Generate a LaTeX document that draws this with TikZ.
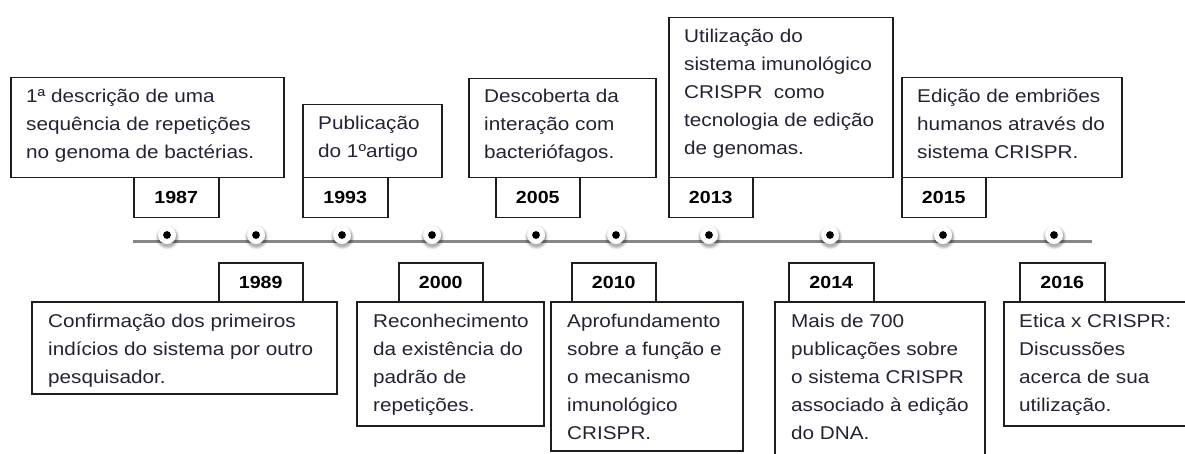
\documentclass[tikz,border=0pt]{standalone}
\usepackage{fontspec}
\setmainfont[FakeStretch=1.12]{Liberation Sans}
\usetikzlibrary{calc}
\definecolor{txtc}{RGB}{35,35,52}
\definecolor{boxc}{RGB}{30,30,30}
\definecolor{linec}{RGB}{135,135,135}
\newcommand{\desctext}[1]{\parbox[t]{320pt}{\raggedright #1}}
\begin{document}
\begin{tikzpicture}[x=1pt,y=-1pt,
  box/.style={draw=boxc, line width=1.5pt, fill=white, anchor=north west, inner sep=0pt},
  desc/.style={anchor=base west, inner sep=0pt, text=txtc, font=\fontsize{18.5}{28}\selectfont},
  yr/.style={text=black, font=\fontsize{17.5}{20}\selectfont\bfseries, inner sep=0pt},
  tl/.style={draw=linec, line width=3pt},
  dotn/.style={circle, fill=white, inner sep=0pt, minimum size=18pt},
  core/.style={fill=black}]
\useasboundingbox (0,0) rectangle (1185,454);
\clip (0,0) rectangle (1185,454);

% timeline
\coordinate (ls) at (133,242);
\coordinate (le) at (1092,242);
\draw[tl] (ls) -- (le);
\foreach \n/\x in {1/167,2/256,3/342,4/432,5/536,6/616,7/709,8/830,9/943,10/1054}{
  \fill[black, opacity=0.07] (\x+0.5,237.5) circle (12pt);
  \fill[black, opacity=0.12] (\x+0.5,237.5) circle (10.8pt);
  \fill[black, opacity=0.15] (\x+0.5,237) circle (9.8pt);
  \node[dotn] (d\n) at (\x,235) {};
  \fill[core] (d\n.center) circle (3.9pt);
}

% upper row
\node[box, minimum width=273, minimum height=100] (b1987) at (10,77) {};
\node[box, minimum width=85, minimum height=40] (y1987) at (133,177) {};
\node[yr] at (y1987.center) {1987};
\node[desc] (t1987) at ($(b1987.north west)+(16,25.5)$) {\desctext{1ª descrição de uma\\sequência de repetições\\no genoma de bactérias.}};

\node[box, minimum width=139, minimum height=73] (b1993) at (302,104) {};
\node[box, minimum width=85, minimum height=40] (y1993) at (302,177) {};
\node[yr] at (y1993.center) {1993};
\node[desc] (t1993) at ($(b1993.north west)+(16,25.5)$) {\desctext{Publicação\\do 1ºartigo}};

\node[box, minimum width=187, minimum height=99] (b2005) at (468,78) {};
\node[box, minimum width=84, minimum height=40] (y2005) at (495,177) {};
\node[yr] at (y2005.center) {2005};
\node[desc] (t2005) at ($(b2005.north west)+(16,25)$) {\desctext{Descoberta da\\interação com\\bacteriófagos.}};

\node[box, minimum width=224, minimum height=160] (b2013) at (668,17) {};
\node[box, minimum width=84, minimum height=40] (y2013) at (668,177) {};
\node[yr] at (y2013.center) {2013};
\node[desc] (t2013) at ($(b2013.north west)+(16,26)$) {\desctext{Utilização do\\sistema imunológico\\CRISPR\ \ como\\tecnologia de edição\\de genomas.}};

\node[box, minimum width=220, minimum height=100] (b2015) at (901,77) {};
\node[box, minimum width=84, minimum height=40] (y2015) at (901,177) {};
\node[yr] at (y2015.center) {2015};
\node[desc] (t2015) at ($(b2015.north west)+(16,25.5)$) {\desctext{Edição de embriões\\humanos através do\\sistema CRISPR.}};

% lower row
\node[box, minimum width=84, minimum height=39] (y1989) at (218,262) {};
\node[box, minimum width=305, minimum height=92] (b1989) at (31,301) {};
\node[yr] at (y1989.center) {1989};
\node[desc] (t1989) at ($(b1989.north west)+(17,26)$) {\desctext{Confirmação dos primeiros\\indícios do sistema por outro\\pesquisador.}};

\node[box, minimum width=84, minimum height=39] (y2000) at (398,262) {};
\node[box, minimum width=187, minimum height=124] (b2000) at (356,301) {};
\node[yr] at (y2000.center) {2000};
\node[desc] (t2000) at ($(b2000.north west)+(17,26)$) {\desctext{Reconhecimento\\da existência do\\padrão de\\repetições.}};

\node[box, minimum width=84, minimum height=39] (y2010) at (571,262) {};
\node[box, minimum width=192, minimum height=149] (b2010) at (550,301) {};
\node[yr] at (y2010.center) {2010};
\node[desc] (t2010) at ($(b2010.north west)+(17,26)$) {\desctext{Aprofundamento\\sobre a função e\\o mecanismo\\imunológico\\CRISPR.}};

\node[box, minimum width=85, minimum height=39] (y2014) at (788,262) {};
\node[box, minimum width=210, minimum height=175] (b2014) at (774,301) {};
\node[yr] at (y2014.center) {2014};
\node[desc] (t2014) at ($(b2014.north west)+(17,26)$) {\desctext{Mais de 700\\publicações sobre\\o sistema CRISPR\\associado à edição\\do DNA.}};

\node[box, minimum width=85, minimum height=39] (y2016) at (1019,262) {};
\node[box, minimum width=200, minimum height=124] (b2016) at (1003,301) {};
\node[yr] at (y2016.center) {2016};
\node[desc] (t2016) at ($(b2016.north west)+(16,26)$) {\desctext{Etica x CRISPR:\\Discussões\\acerca de sua\\utilização.}};
\end{tikzpicture}
\end{document}
